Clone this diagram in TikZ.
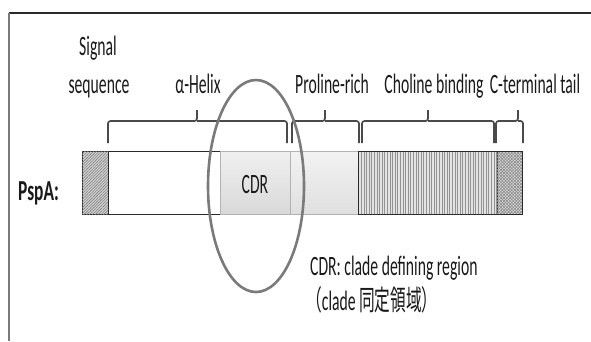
\documentclass[tikz,border=0pt]{standalone}
\usepackage{fontspec}
\setmainfont{Carlito}
\newfontfamily\cjk{Noto Sans CJK JP}
\usetikzlibrary{patterns.meta,shapes.geometric}
\definecolor{txt}{HTML}{1A1A1A}
\definecolor{bgray}{HTML}{4A4A4A}
\definecolor{cgray}{HTML}{7A7A7A}
\definecolor{edge}{HTML}{2A2A2A}
\newcommand{\sq}[1]{\scalebox{0.56}[1]{#1}}
\begin{document}
\begin{tikzpicture}[x=1pt,y=-1pt,
  lbl/.style={anchor=base, inner sep=0pt, text=txt, font=\fontsize{28}{30}\selectfont},
  seg/.style={minimum height=63pt, inner sep=0pt, outer sep=0pt, anchor=north west, draw=edge, line width=1pt},
  brc/.style={draw=bgray, line width=1.7pt, rounded corners=2.5pt}]
\useasboundingbox (0,0) rectangle (591,341);
\fill[white] (0,0) rectangle (591,341);
% frame
\coordinate (ftl) at (8.5,13);
\coordinate (ftr) at (591,13);
\coordinate (fbl) at (8.5,341);
\draw[edge, line width=1.4pt] (ftl) -- (ftr);
\draw[cgray, line width=2pt] (ftl) -- (fbl);
% bar segments
\node[seg, minimum width=26pt, fill=gray!35,
  postaction={pattern={Lines[angle=45,distance=2pt,line width=0.6pt]}, pattern color=gray}] (sig) at (82,151) {};
\node[seg, minimum width=112pt, fill=white] (helix) at (108,151) {};
\node[seg, minimum width=68pt, top color=gray!10, bottom color=gray!25, draw=gray!60] (pro) at (290,151) {};
\node[seg, minimum width=70pt, top color=gray!12, bottom color=gray!30, draw=gray!60] (cdr) at (220,151) {};
\node[seg, minimum width=139pt, fill=gray!22,
  postaction={pattern={Lines[angle=90,distance=2.6pt,line width=0.9pt]}, pattern color=gray!85}] (cho) at (358,151) {};
\node[seg, minimum width=25pt, fill=gray!25,
  postaction={pattern={Lines[angle=45,distance=2.2pt,line width=0.7pt]}, pattern color=gray!90},
  postaction={pattern={Lines[angle=-45,distance=2.2pt,line width=0.7pt]}, pattern color=gray!90}] (ct) at (497,151) {};
\draw[edge, line width=1pt] (cho.north west) rectangle (ct.south east);
\node[lbl] (cdrt) at (255,193) {\sq{CDR}};
% braces
\coordinate (hl) at (108,143); \coordinate (hp) at (197,121); \coordinate (hr) at (287,143);
\coordinate (pl) at (292,143); \coordinate (pp) at (325,121); \coordinate (pr) at (359,143);
\coordinate (cl) at (362,143); \coordinate (cp) at (428,121); \coordinate (cr) at (494,143);
\coordinate (tl) at (496,143); \coordinate (tp) at (518,121); \coordinate (tr) at (523,143);
\foreach \a in {h,p,c,t}{
  \draw[brc] (\a l) |- (\a p) -- ++(0,-11) (\a p) -| (\a r);
}
% labels
\node[lbl] (signal) at (98,55) {\sq{Signal}};
\node[lbl] (seq) at (99,93) {\sq{sequence}};
\node[lbl] (ahel) at (198,93) {\sq{α-Helix}};
\node[lbl] (prol) at (332,93) {\sq{Proline-rich}};
\node[lbl] (chol) at (434,93) {\sq{Choline binding}};
\node[lbl] (ctail) at (535,93) {\sq{C-terminal tail}};
\node[lbl, anchor=base west, font=\fontsize{29}{30}\selectfont\bfseries] (pspa) at (18,200) {\scalebox{0.6}[1]{PspA:}};
\node[lbl, anchor=base west] (leg1) at (310,275) {\sq{CDR: clade defining region}};
\node[lbl, anchor=base west] (leg2) at (306,310) {\sq{{\cjk （}clade {\cjk 同定領域）}}};
% circle
\node[draw=cgray, line width=2.6pt, ellipse, minimum width=96pt, minimum height=212pt, inner sep=0pt] (circ) at (256,186) {};
\end{tikzpicture}
\end{document}
